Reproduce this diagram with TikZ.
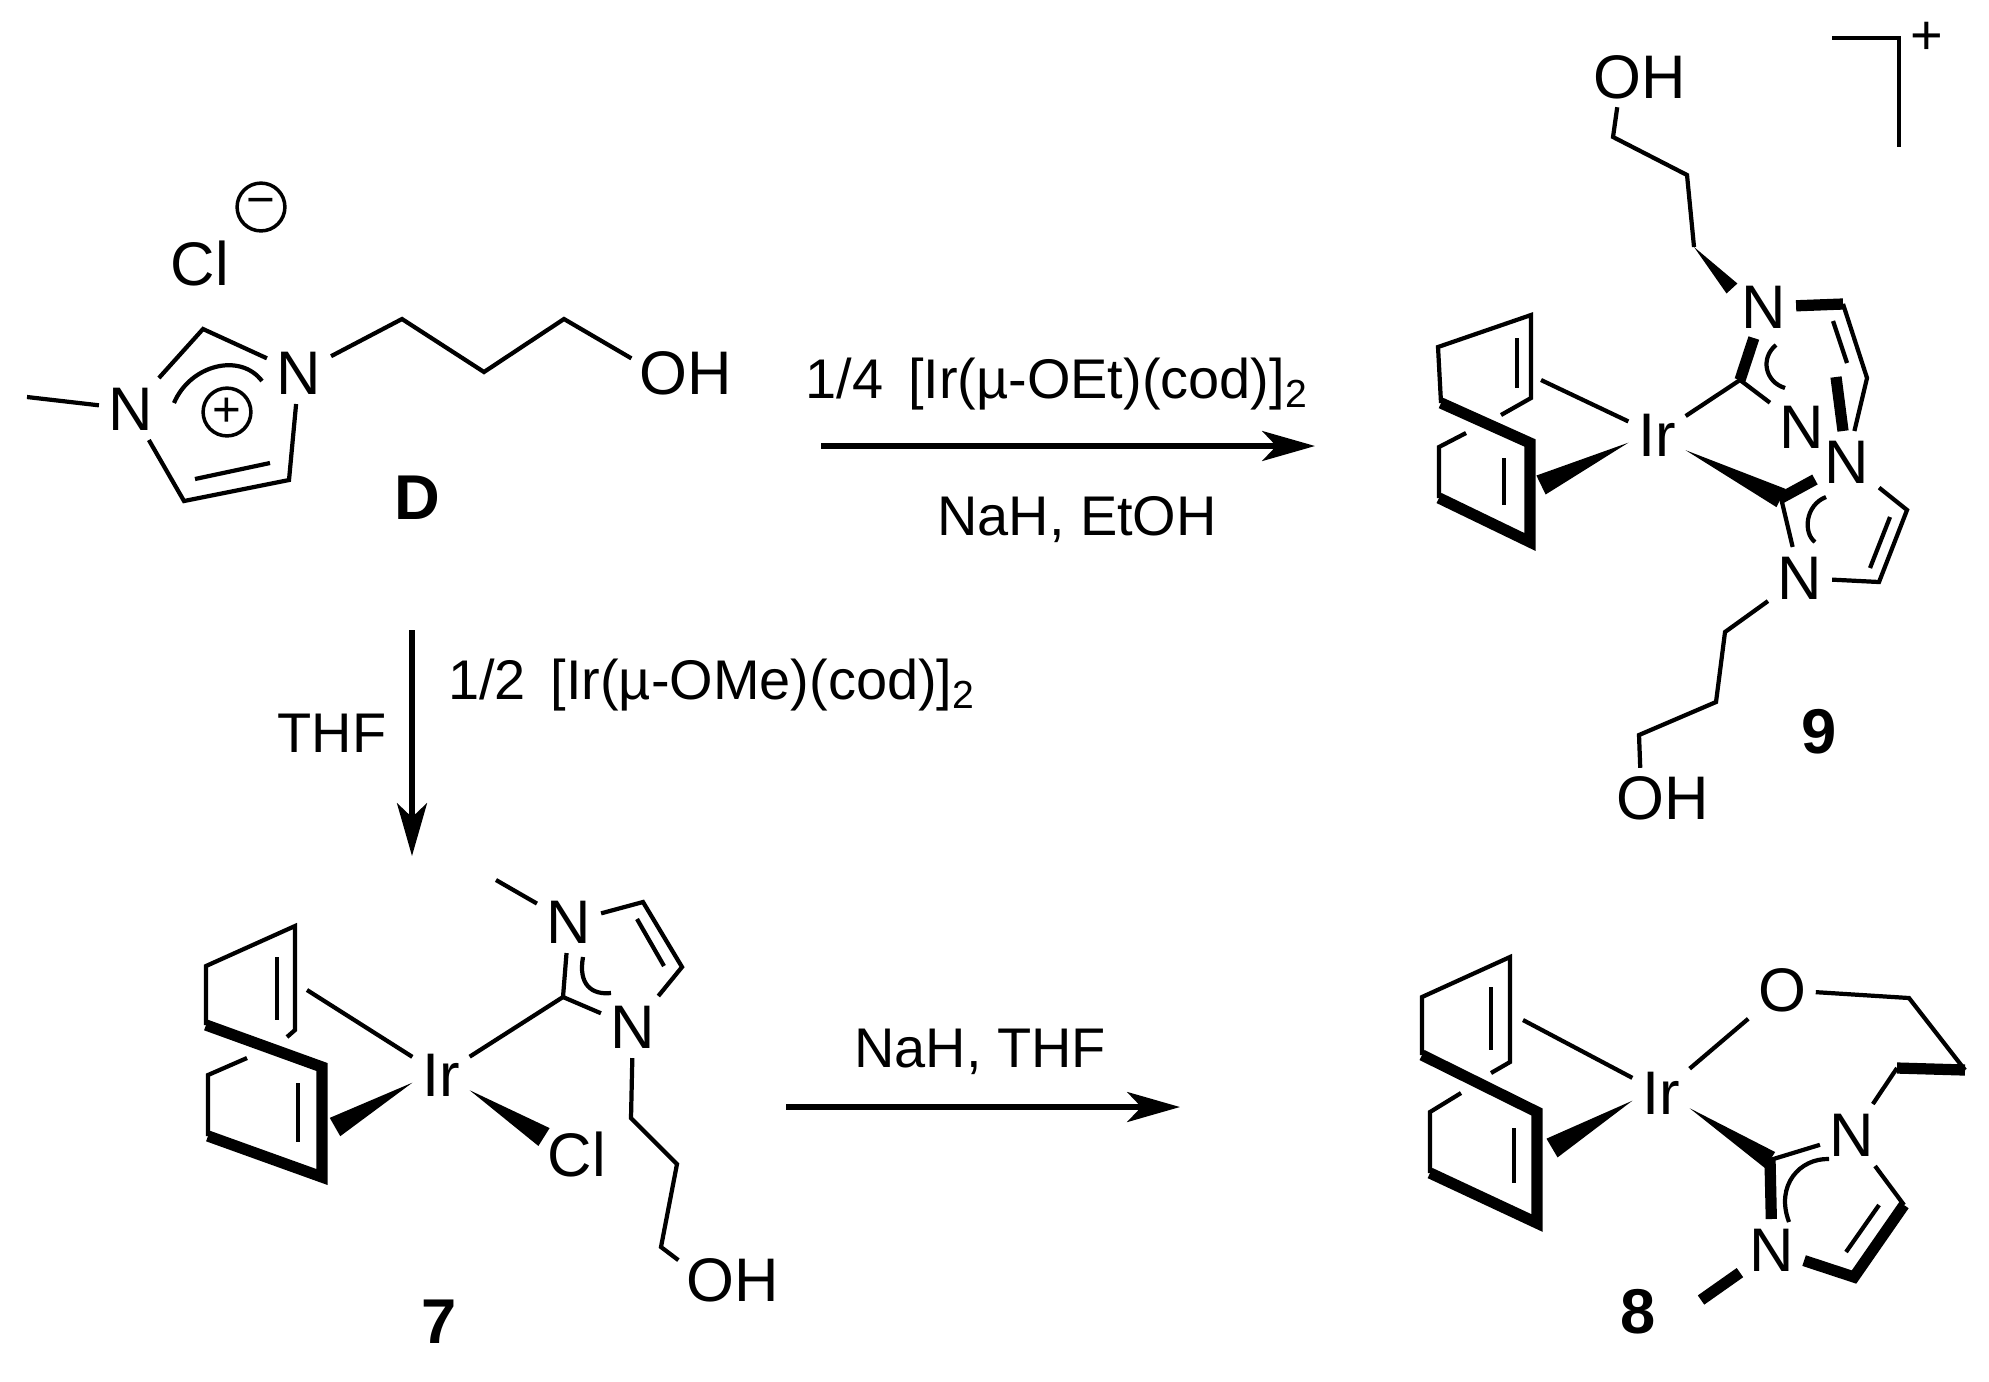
\documentclass[tikz,border=0pt]{standalone}
\usepackage{fontspec}
\setmainfont{Liberation Sans}
\usetikzlibrary{calc,arrows.meta}
\tikzset{
  atom/.style={inner sep=2.6pt, font=\fontsize{17.5}{20}\selectfont},
  cmpdlabel/.style={inner sep=0pt, font=\fontsize{18}{20}\selectfont\bfseries},
  reagent/.style={inner sep=0pt, font=\fontsize{15.9}{20}\selectfont},
  charge/.style={draw, circle, line width=1pt, minimum size=13.6pt, inner sep=0pt, font=\fontsize{14}{14}\selectfont},
  bond/.style={line width=1.2pt, line join=miter},
  boldbond/.style={line width=3.2pt, line join=miter},
  rxnarrow/.style={line width=1.6pt, -{Stealth[length=15pt,width=8.5pt,inset=4pt]}}
}
% narrow end, wide end, half width
\newcommand{\wedgebond}[3]{\fill ($(#2)!#3!90:(#1)$) -- ($(#2)!#3!-90:(#1)$) -- (#1) -- cycle;}

\begin{document}
\begin{tikzpicture}[x=0.01cm, y=-0.01cm]
\useasboundingbox (0,0) rectangle (1989,1381);

% imidazolium salt D
\node[atom] (cld) at (200,263) {Cl};
\node[charge] (minusd) at (261,207) {−};
\node[atom] (none) at (131,409) {N};
\node[atom] (ntwo) at (299,373) {N};
\node[atom, inner sep=2.2pt] (ohd) at (686,373) {OH};
\node[charge] (plusd) at (227,412) {+};
\node[cmpdlabel] (labeld) at (417,498) {D};
\coordinate (med) at (27,397);
\coordinate (cfourd) at (203,329);
\coordinate (cfived) at (289,480);
\coordinate (csixd) at (184,501);
\coordinate (dba) at (195,479);
\coordinate (dbb) at (270,463);
\coordinate (chaina) at (402,319);
\coordinate (chainb) at (484,372);
\coordinate (chainc) at (564,319);
\draw[bond] (med) -- (none);
\draw[bond] (none) -- (cfourd) -- (ntwo);
\draw[bond] (ntwo) -- (cfived) -- (csixd) -- (none);
\draw[bond] (dba) -- (dbb);
\draw[bond] (174,403) .. controls (190,365) and (240,352) .. (262,381);
\draw[bond] (ntwo) -- (chaina) -- (chainb) -- (chainc) -- (ohd.165);

% arrows and reagents
\coordinate (topa) at (821,446);
\coordinate (topb) at (1315,446);
\coordinate (downa) at (412,630);
\coordinate (downb) at (412,856);
\coordinate (lowa) at (786,1107);
\coordinate (lowb) at (1180,1107);
\draw[rxnarrow] (topa) -- (topb);
\draw[rxnarrow] (downa) -- (downb);
\draw[rxnarrow] (lowa) -- (lowb);
\node[reagent] (reagtop) at (1057,384) {1/4\ \,[Ir(µ-OEt)(cod)]\textsubscript{2}};
\node[reagent] (reagmid) at (1077,520) {NaH, EtOH};
\node[reagent] (reagdown) at (712,685) {1/2\ \,[Ir(µ-OMe)(cod)]\textsubscript{2}};
\node[reagent] (reagthf) at (332,733) {THF};
\node[reagent] (reaglow) at (980,1052) {NaH, THF};

% bis-carbene cation 9
\node[atom] (irnine) at (1657,435) {Ir};
\node[atom] (nnea) at (1764,307) {N};
\node[atom] (nneb) at (1802,427) {N};
\node[atom] (nnec) at (1847,462) {N};
\node[atom] (nned) at (1800,578) {N};
\node[atom, inner sep=2.2pt] (ohnea) at (1640,77) {OH};
\node[atom, inner sep=2.2pt] (ohneb) at (1663,798) {OH};
\node[cmpdlabel] (labelnine) at (1819,732) {9};
\coordinate (na) at (1613,137);
\coordinate (nb) at (1687,175);
\coordinate (nc) at (1694,247);
\coordinate (nd) at (1843,304);
\coordinate (ne) at (1867,378);
\coordinate (nf) at (1740,380);
\coordinate (ng) at (1833,321);
\coordinate (nh) at (1847,363);
\coordinate (ni) at (1781,498);
\coordinate (nj) at (1907,510);
\coordinate (nk) at (1879,582);
\coordinate (nl) at (1890,517);
\coordinate (nm) at (1870,568);
\coordinate (nn) at (1725,632);
\coordinate (no) at (1716,702);
\coordinate (np) at (1639,735);
\draw[bond] (ohnea.233) -- (na) -- (nb) -- (nc);
\wedgebond{nc}{nnea.150}{2.1pt}
\draw[boldbond] (nnea) -- (nd);
\draw[bond] (nd) -- (ne) -- (nnec);
\draw[bond] (ng) -- (nh);
\draw[boldbond] (nnea) -- (nf);
\draw[bond] (nf) -- (nneb);
\draw[bond] (nf) -- (irnine);
\draw[bond] (1776,345) .. controls (1760,358) and (1765,382) .. (1785,388);
\draw[boldbond] (1836,377) -- (nnec);
\draw[boldbond] (ni) -- (nnec);
\draw[bond] (ni) -- (nned);
\draw[bond] (1826,497) .. controls (1805,505) and (1803,533) .. (1815,542);
\draw[bond] (nnec) -- (nj) -- (nk) -- (nned);
\draw[bond] (nl) -- (nm);
\draw[bond] (nned) -- (nn) -- (no) -- (np) -- (ohneb.127);
\wedgebond{irnine.-28}{ni}{2.9pt}
% cod ligand of 9
\coordinate (ca) at (1438,347);
\coordinate (cb) at (1531,315);
\coordinate (cc) at (1531,398);
\coordinate (cd) at (1501,415);
\coordinate (ce) at (1441,403);
\coordinate (cf) at (1530,443);
\coordinate (cg) at (1530,542);
\coordinate (ch) at (1439,498);
\coordinate (ci) at (1439,447);
\coordinate (cj) at (1466,433);
\coordinate (ck) at (1541,380);
\coordinate (cl) at (1541,485);
\draw[bond] (ce) -- (ca) -- (cb) -- (cc) -- (cd);
\draw[bond] (1517,338) -- (1517,388);
\draw[boldbond] (ce) -- (cf) -- (cg) -- (ch);
\draw[bond] (ch) -- (ci) -- (cj);
\draw[bond] (1504,458) -- (1504,505);
\draw[bond] (ck) -- (irnine);
\wedgebond{irnine.-165}{cl}{3pt}
% bracket
\coordinate (bra) at (1832,38);
\coordinate (brb) at (1899,38);
\coordinate (brc) at (1899,147);
\draw[bond] (bra) -- (brb) -- (brc);
\node[reagent] (brplus) at (1927,38) {+};

% complex 7
\node[atom] (irseven) at (441,1075) {Ir};
\node[atom] (nsea) at (569,922) {N};
\node[atom] (nseb) at (633,1027) {N};
\node[atom] (clseven) at (577,1154) {Cl};
\node[atom, inner sep=2.2pt] (ohseven) at (733,1280) {OH};
\node[cmpdlabel] (labelseven) at (439,1322) {7};
\coordinate (sa) at (496,880);
\coordinate (sb) at (643,902);
\coordinate (sc) at (682,967);
\coordinate (sd) at (563,997);
\coordinate (se) at (631,1118);
\coordinate (sf) at (677,1164);
\coordinate (sg) at (661,1247);
\coordinate (sh) at (544,1137);
\draw[bond] (sa) -- (nsea);
\draw[bond] (nsea) -- (sb) -- (sc) -- (nseb);
\draw[bond] (637,919) -- (664,966);
\draw[bond] (nsea) -- (sd) -- (nseb);
\draw[bond] (sd) -- (irseven);
\draw[bond] (583,957) .. controls (578,985) and (592,995) .. (611,993);
\draw[bond] (nseb) -- (se) -- (sf) -- (sg) -- (ohseven.160);
\wedgebond{irseven.-28}{sh}{3pt}
% cod ligand of 7
\coordinate (da) at (206,966);
\coordinate (db) at (295,926);
\coordinate (dc) at (295,1030);
\coordinate (dd) at (287,1037);
\coordinate (de) at (206,1025);
\coordinate (df) at (322,1067);
\coordinate (dg) at (322,1177);
\coordinate (dh) at (208,1136);
\coordinate (di) at (208,1075);
\coordinate (dj) at (247,1058);
\coordinate (dk) at (307,990);
\coordinate (dl) at (335,1127);
\draw[bond] (de) -- (da) -- (db) -- (dc) -- (dd);
\draw[bond] (277,957) -- (277,1020);
\draw[boldbond] (de) -- (df) -- (dg) -- (dh);
\draw[bond] (dh) -- (di) -- (dj);
\draw[bond] (298,1083) -- (298,1142);
\draw[bond] (dk) -- (irseven);
\wedgebond{irseven.-165}{dl}{3pt}

% chelate 8
\node[atom] (ireight) at (1661,1093) {Ir};
\node[atom] (oeight) at (1782,990) {O};
\node[atom] (nega) at (1852,1135) {N};
\node[atom] (negb) at (1772,1250) {N};
\node[cmpdlabel] (labeleight) at (1638,1312) {8};
\coordinate (ea) at (1909,998);
\coordinate (eb) at (1965,1070);
\coordinate (ec) at (1897,1068);
\coordinate (ed) at (1770,1160);
\coordinate (ee) at (1904,1205);
\coordinate (ef) at (1854,1277);
\coordinate (eg) at (1701,1300);
\coordinate (eh) at (1879,1205);
\coordinate (ei) at (1846,1252);
\draw[bond] (ireight) -- (oeight);
\draw[bond] (oeight) -- (ea) -- (eb);
\draw[boldbond] (eb) -- (ec);
\draw[bond] (ec) -- (nega);
\draw[bond] (ed) -- (nega);
\draw[boldbond] (ed) -- (negb);
\draw[bond] (1829,1159) .. controls (1800,1158) and (1775,1185) .. (1789,1222);
\draw[bond] (nega) -- (ee);
\draw[boldbond] (ee) -- (ef) -- (negb);
\draw[bond] (eh) -- (ei);
\draw[boldbond] (negb) -- (eg);
\wedgebond{ireight.-28}{ed}{2.7pt}
% cod ligand of 8
\coordinate (fa) at (1422,997);
\coordinate (fb) at (1510,957);
\coordinate (fc) at (1510,1062);
\coordinate (fd) at (1491,1073);
\coordinate (fe) at (1422,1055);
\coordinate (ff) at (1537,1112);
\coordinate (fg) at (1537,1223);
\coordinate (fh) at (1430,1173);
\coordinate (fi) at (1430,1112);
\coordinate (fj) at (1461,1093);
\coordinate (fk) at (1523,1020);
\coordinate (fl) at (1552,1148);
\draw[bond] (fe) -- (fa) -- (fb) -- (fc) -- (fd);
\draw[bond] (1491,987) -- (1491,1050);
\draw[boldbond] (fe) -- (ff) -- (fg) -- (fh);
\draw[bond] (fh) -- (fi) -- (fj);
\draw[bond] (1514,1128) -- (1514,1183);
\draw[bond] (fk) -- (ireight);
\wedgebond{ireight.-165}{fl}{3.1pt}
\end{tikzpicture}
\end{document}
